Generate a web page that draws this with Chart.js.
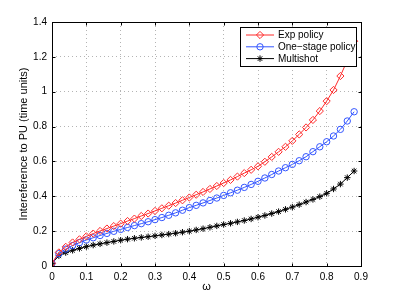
<!DOCTYPE html>
<html>
<head>
<meta charset="utf-8">
<script src="https://cdn.jsdelivr.net/npm/chart.js@4.4.1/dist/chart.umd.min.js"></script>
<style>
  html, body { margin: 0; padding: 0; background: #fff; }
  canvas { display: block; }
</style>
</head>
<body>
<canvas id="chart" width="399" height="300"></canvas>
<script>
const omega = [0, 0.02, 0.04, 0.06, 0.08, 0.1, 0.12, 0.14, 0.16, 0.18, 0.2, 0.22, 0.24, 0.26, 0.28, 0.3,
  0.32, 0.34, 0.36, 0.38, 0.4, 0.42, 0.44, 0.46, 0.48, 0.5, 0.52, 0.54, 0.56, 0.58, 0.6,
  0.62, 0.64, 0.66, 0.68, 0.7, 0.72, 0.74, 0.76, 0.78, 0.8, 0.82, 0.84, 0.86, 0.88];
const expPolicy = [0.015, 0.078, 0.110, 0.135, 0.153, 0.170, 0.186, 0.201, 0.215, 0.229, 0.243, 0.258, 0.272, 0.287, 0.301, 0.316,
  0.331, 0.346, 0.361, 0.377, 0.393, 0.409, 0.425, 0.442, 0.459, 0.476, 0.494, 0.513, 0.533, 0.552, 0.572,
  0.598, 0.626, 0.655, 0.684, 0.718, 0.755, 0.795, 0.838, 0.889, 0.946, 1.010, 1.090, 1.180, 1.290];
const oneStage = [0.015, 0.071, 0.097, 0.117, 0.134, 0.149, 0.162, 0.175, 0.187, 0.199, 0.210, 0.221, 0.232, 0.243, 0.254, 0.266,
  0.278, 0.291, 0.305, 0.320, 0.335, 0.348, 0.362, 0.376, 0.390, 0.405, 0.420, 0.435, 0.451, 0.468, 0.486,
  0.505, 0.525, 0.545, 0.564, 0.583, 0.604, 0.627, 0.656, 0.684, 0.713, 0.746, 0.784, 0.832, 0.885];
const multishot = [0.015, 0.059, 0.077, 0.090, 0.101, 0.111, 0.120, 0.127, 0.134, 0.141, 0.148, 0.154, 0.159, 0.164, 0.168, 0.173,
  0.178, 0.183, 0.188, 0.194, 0.200, 0.207, 0.214, 0.222, 0.230, 0.238, 0.245, 0.253, 0.261, 0.270, 0.280,
  0.290, 0.301, 0.312, 0.325, 0.338, 0.352, 0.367, 0.382, 0.398, 0.417, 0.442, 0.470, 0.507, 0.545];
const xTicks = [0, 0.1, 0.2, 0.3, 0.4, 0.5, 0.6, 0.7, 0.8, 0.9];
const yTicks = [0, 0.2, 0.4, 0.6, 0.8, 1, 1.2, 1.4];

const font = "'Liberation Sans', Arial, Helvetica, sans-serif";
const red = "#ff2a2a";
const blue = "#3355ff";
const black = "#000000";

const series = [
  { label: "Exp policy", values: expPolicy, color: red, style: "rectRot", radius: 3.6 },
  { label: "One\u2212stage policy", values: oneStage, color: blue, style: "circle", radius: 3.2 },
  { label: "Multishot", values: multishot, color: black, style: "star", radius: 3.2 },
];

// box, inward ticks, axis titles and legend in MATLAB style
const matlabFrame = {
  id: "matlabFrame",
  afterDatasetsDraw(chart) {
    const { ctx, chartArea: a, scales } = chart;
    ctx.save();
    ctx.strokeStyle = "#000";
    ctx.lineWidth = 1;
    const L = Math.round(a.left) + 0.5, R = Math.round(a.right) + 0.5;
    const T = Math.round(a.top) + 0.5, B = Math.round(a.bottom) + 0.5;
    ctx.beginPath();
    xTicks.forEach((v) => {
      const px = Math.round(scales.x.getPixelForValue(v)) + 0.5;
      ctx.moveTo(px, B); ctx.lineTo(px, B - 3);
      ctx.moveTo(px, T); ctx.lineTo(px, T + 3);
    });
    yTicks.forEach((v) => {
      const py = Math.round(scales.y.getPixelForValue(v)) + 0.5;
      ctx.moveTo(L, py); ctx.lineTo(L + 3, py);
      ctx.moveTo(R, py); ctx.lineTo(R - 3, py);
    });
    ctx.stroke();
    ctx.strokeRect(L, T, R - L, B - T);

    // axis titles
    ctx.fillStyle = "#000";
    ctx.font = "11px " + font;
    ctx.textAlign = "center";
    ctx.textBaseline = "middle";
    ctx.fillText("\u03c9", (a.left + a.right) / 2, 287);
    ctx.save();
    ctx.translate(24, (a.top + a.bottom) / 2);
    ctx.rotate(-Math.PI / 2);
    ctx.fillText("Intereference to PU (time units)", 0, 0);
    ctx.restore();

    // legend
    const lx = 240.5, ly = 27.5, lw = 116, lh = 39;
    ctx.fillStyle = "#fff";
    ctx.fillRect(lx, ly, lw, lh);
    ctx.strokeStyle = "#000";
    ctx.strokeRect(lx, ly, lw, lh);
    ctx.font = "10px " + font;
    ctx.textAlign = "left";
    series.forEach((s, i) => {
      const y = 35 + i * 11.8;
      ctx.strokeStyle = s.color;
      ctx.lineWidth = 1;
      ctx.beginPath();
      ctx.moveTo(246, y); ctx.lineTo(274, y);
      ctx.stroke();
      ctx.fillStyle = "rgba(0,0,0,0)";
      Chart.helpers.drawPoint(ctx, { pointStyle: s.style, radius: s.radius, borderWidth: 1 }, 260, y);
      ctx.fillStyle = "#000";
      ctx.fillText(s.label, 278, y + 0.5);
    });
    ctx.restore();
  },
};

new Chart(document.getElementById("chart").getContext("2d"), {
  type: "line",
  data: {
    datasets: series.map((s) => ({
      label: s.label,
      data: omega.map((x, i) => ({ x: x, y: s.values[i] })),
      borderColor: s.color,
      borderWidth: 1,
      pointStyle: s.style,
      pointRadius: s.radius,
      pointBorderColor: s.color,
      pointBackgroundColor: "rgba(0,0,0,0)",
      pointBorderWidth: 1,
      tension: 0,
    })),
  },
  options: {
    responsive: false,
    animation: false,
    layout: { padding: { top: 22, right: 38, left: 0, bottom: 0 } },
    plugins: { legend: { display: false }, tooltip: { enabled: false } },
    scales: {
      x: {
        type: "linear",
        min: 0,
        max: 0.9,
        afterBuildTicks: (s) => { s.ticks = xTicks.map((v) => ({ value: v })); },
        afterFit: (s) => { s.height = 34; },
        grid: { color: "#b4b4b4", drawTicks: false },
        border: { display: false, dash: [1, 3] },
        ticks: { color: "#000", padding: 5, maxRotation: 0, font: { family: font, size: 10 }, callback: (v) => String(+v.toFixed(1)) },
      },
      y: {
        min: 0,
        max: 1.4,
        afterBuildTicks: (s) => { s.ticks = yTicks.map((v) => ({ value: v })); },
        afterFit: (s) => { s.width = 52; },
        grid: { color: "#b4b4b4", drawTicks: false },
        border: { display: false, dash: [1, 3] },
        ticks: { color: "#000", padding: 5, font: { family: font, size: 10 }, callback: (v) => String(+v.toFixed(1)) },
      },
    },
  },
  plugins: [matlabFrame],
});
</script>
</body>
</html>
